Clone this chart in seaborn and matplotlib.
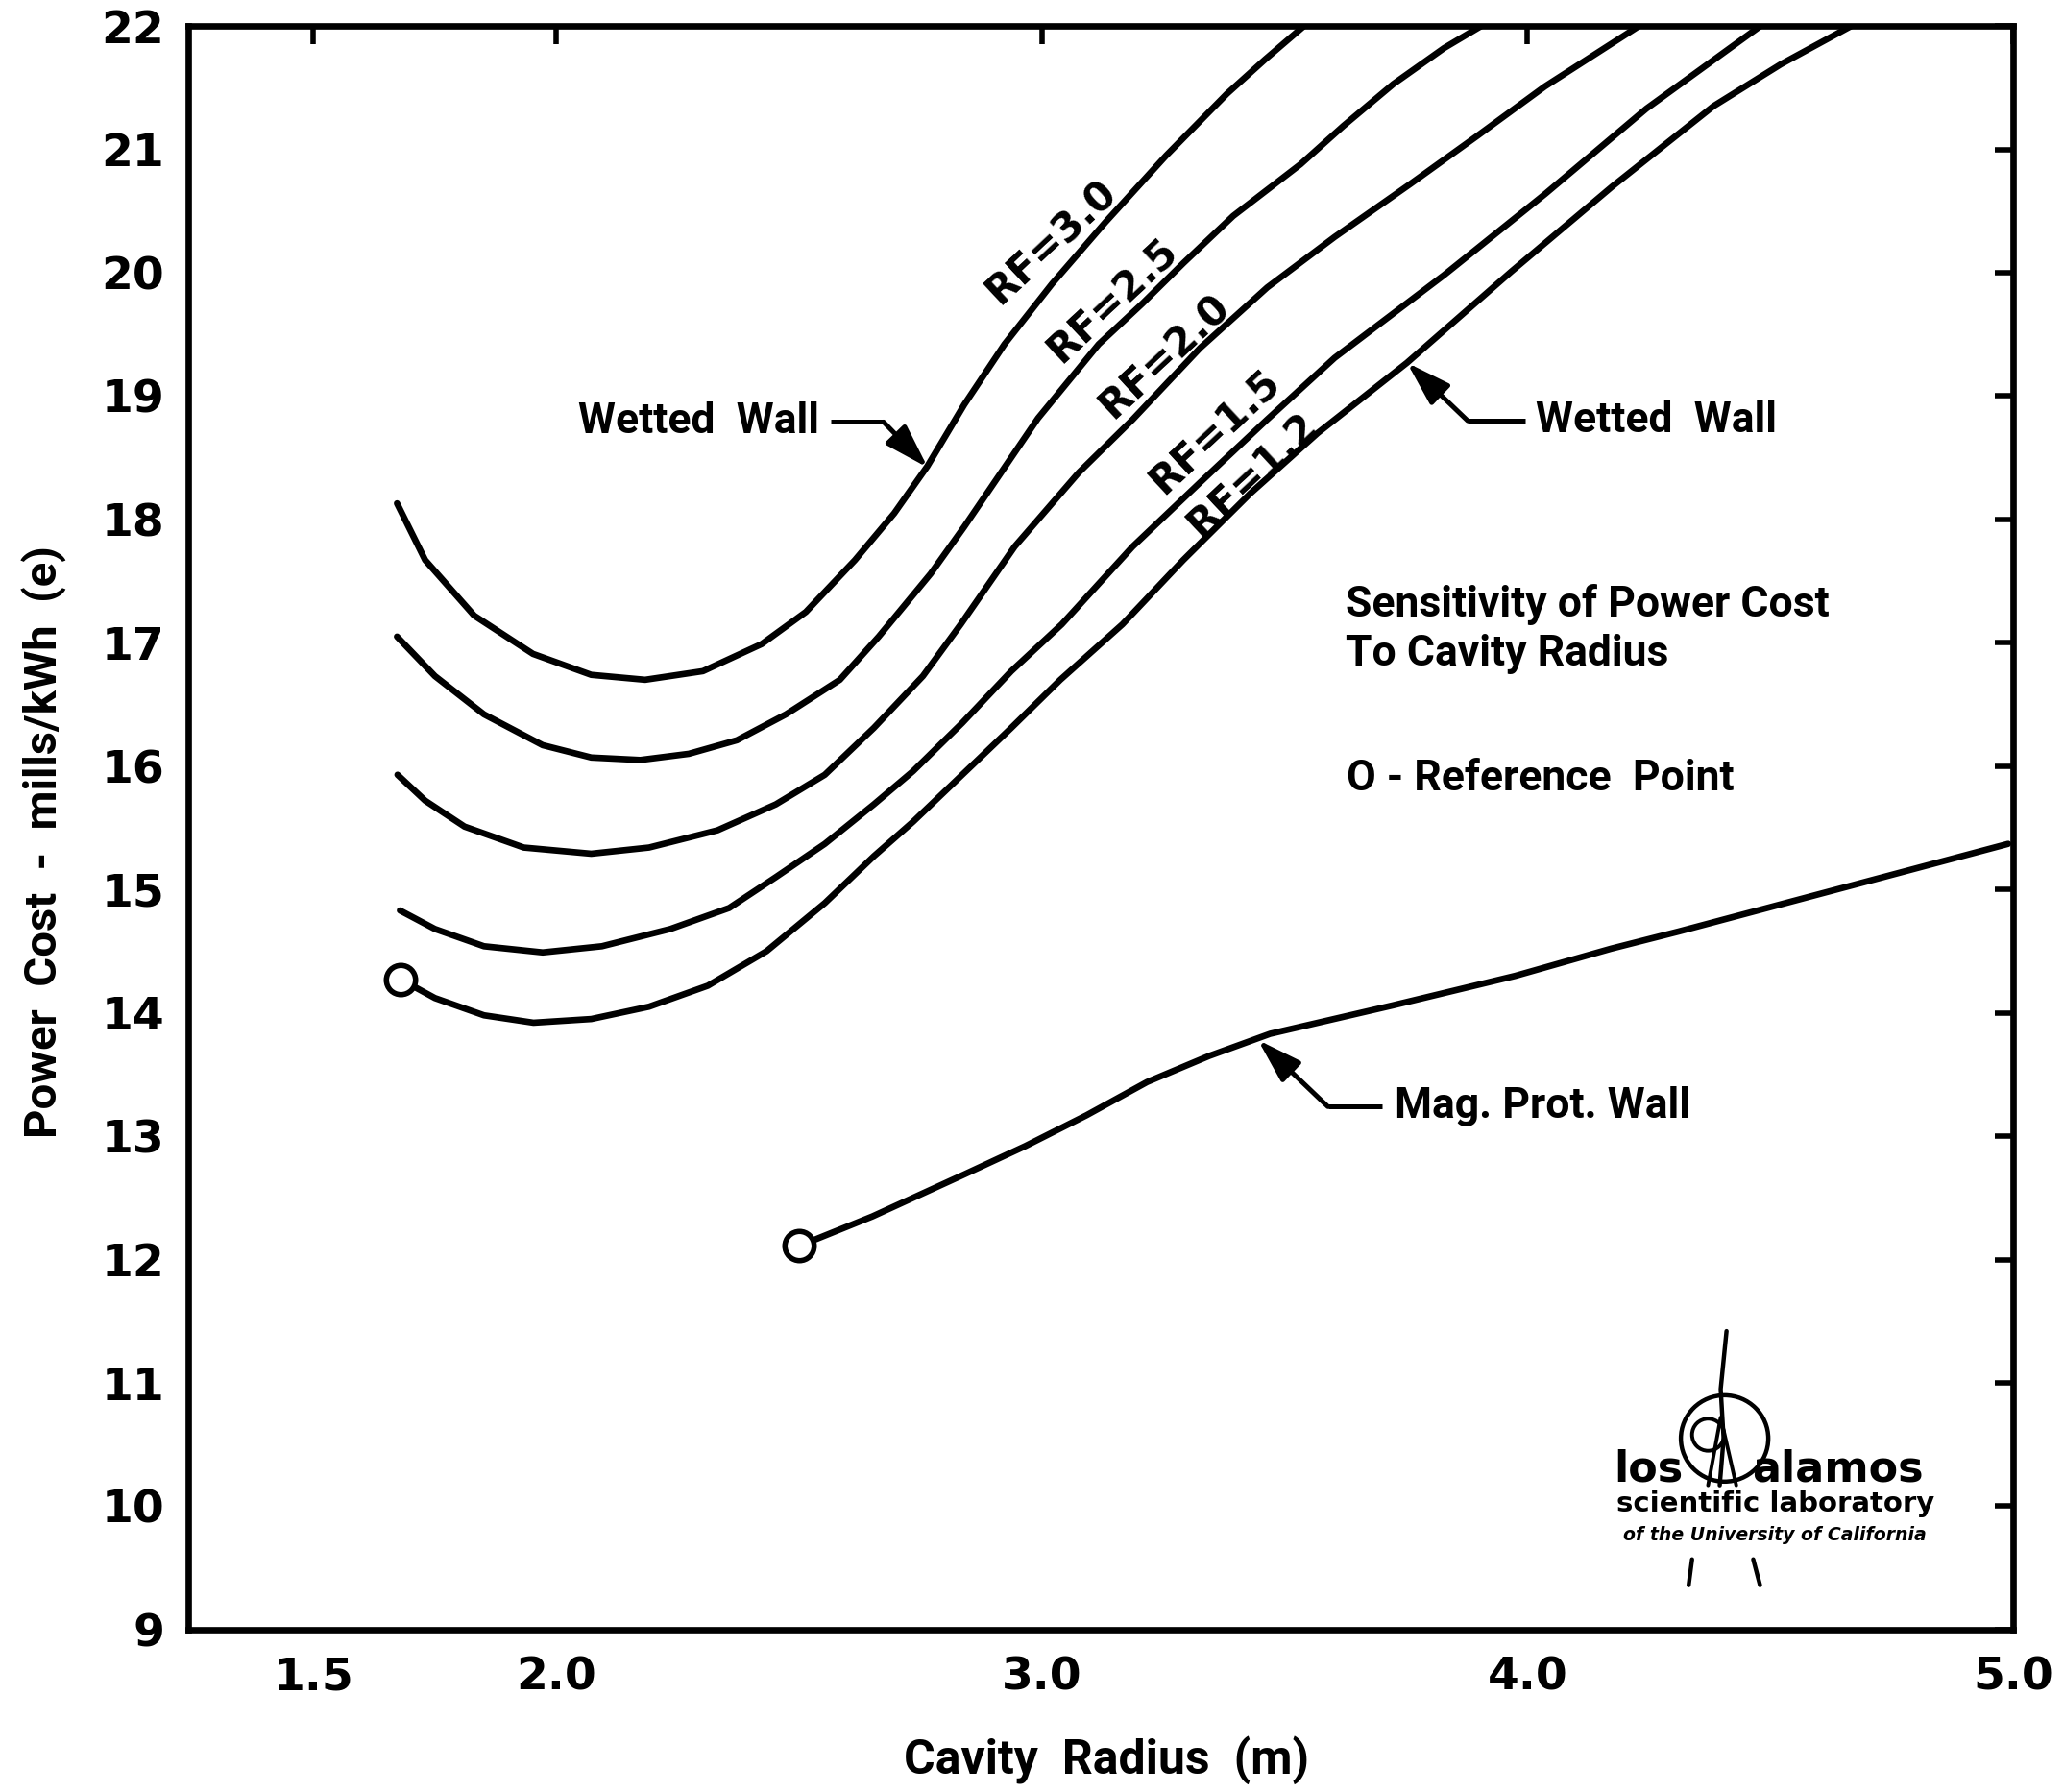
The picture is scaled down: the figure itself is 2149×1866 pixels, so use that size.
import numpy as np
import pandas as pd
import matplotlib
matplotlib.use("Agg")
import matplotlib.pyplot as plt
import seaborn as sns
from matplotlib.patches import Ellipse

# ---------------- data ----------------
rf30_x = [1.672, 1.730, 1.831, 1.952, 2.072, 2.183, 2.302, 2.423, 2.514, 2.615, 2.696, 2.764,
          2.840, 2.923, 3.021, 3.131, 3.256, 3.381, 3.460, 3.540]
rf30_y = [18.13, 17.67, 17.22, 16.91, 16.74, 16.70, 16.77, 16.99, 17.25, 17.67, 18.05, 18.43,
          18.93, 19.42, 19.91, 20.41, 20.95, 21.45, 21.73, 22.00]

rf25_x = [1.672, 1.750, 1.851, 1.972, 2.072, 2.173, 2.273, 2.372, 2.473, 2.584, 2.664, 2.771,
          2.840, 2.992, 3.117, 3.207, 3.292, 3.394, 3.533, 3.621, 3.724, 3.828, 3.905]
rf25_y = [17.05, 16.73, 16.42, 16.17, 16.07, 16.05, 16.10, 16.21, 16.42, 16.70, 17.05, 17.56,
          17.94, 18.82, 19.42, 19.75, 20.08, 20.46, 20.88, 21.19, 21.53, 21.82, 22.00]

rf20_x = [1.673, 1.730, 1.811, 1.933, 2.072, 2.191, 2.332, 2.452, 2.553, 2.654, 2.755, 2.833,
          2.944, 3.076, 3.187, 3.326, 3.464, 3.603, 3.759, 3.897, 4.036, 4.230]
rf20_y = [15.93, 15.72, 15.51, 15.34, 15.29, 15.34, 15.48, 15.69, 15.93, 16.31, 16.73, 17.15,
          17.78, 18.38, 18.81, 19.39, 19.88, 20.29, 20.72, 21.11, 21.51, 22.00]

rf15_x = [1.678, 1.750, 1.851, 1.972, 2.094, 2.235, 2.356, 2.452, 2.553, 2.654, 2.735, 2.836,
          2.937, 3.041, 3.187, 3.326, 3.464, 3.603, 3.828, 4.037, 4.245, 4.480]
rf15_y = [14.83, 14.68, 14.54, 14.49, 14.54, 14.68, 14.85, 15.10, 15.37, 15.69, 15.96, 16.35,
          16.77, 17.15, 17.78, 18.30, 18.81, 19.31, 19.98, 20.64, 21.33, 22.00]

rf12_x = [1.680, 1.750, 1.851, 1.953, 2.072, 2.191, 2.312, 2.433, 2.553, 2.654, 2.735, 2.836,
          2.937, 3.038, 3.166, 3.291, 3.429, 3.568, 3.752, 3.967, 4.175, 4.383, 4.522, 4.667]
rf12_y = [14.27, 14.12, 13.98, 13.92, 13.95, 14.05, 14.22, 14.50, 14.89, 15.27, 15.55, 15.93,
          16.31, 16.70, 17.15, 17.67, 18.21, 18.70, 19.27, 20.01, 20.70, 21.35, 21.69, 22.00]

mag_x = [2.500, 2.651, 2.840, 2.966, 3.092, 3.217, 3.344, 3.470, 3.722, 3.975, 4.172, 4.312, 4.990]
mag_y = [12.11, 12.35, 12.69, 12.92, 13.17, 13.44, 13.65, 13.83, 14.06, 14.30, 14.52, 14.66, 15.37]

ref_x = [1.680, 2.500]
ref_y = [14.27, 12.11]

rf_labels = ["RF=3.0", "RF=2.5", "RF=2.0", "RF=1.5", "RF=1.2"]
rf_label_x = [3.020, 3.145, 3.252, 3.356, 3.433]
rf_label_y = [20.25, 19.77, 19.32, 18.71, 18.36]

x_ticks = [1.5, 2.0, 3.0, 4.0, 5.0]
x_tick_labels = ["1.5", "2.0", "3.0", "4.0", "5.0"]
y_ticks = list(range(9, 23))

# ---------------- figure ----------------
sns.set_theme(style="white")
plt.rcParams['font.family'] = ['DejaVu Sans']
plt.rcParams.update({"text.color": "black", "axes.labelcolor": "black",
                     "xtick.color": "black", "ytick.color": "black"})
NARROW = ['Roboto', 'DejaVu Sans']

fig = plt.figure(figsize=(2149 / 200, 1866 / 200), dpi=200)
fig.patch.set_facecolor("white")
ax = fig.add_axes([0.0912, 0.0906, 0.9753 - 0.0912, 0.9855 - 0.0906])
ax.set_facecolor("white")

frames = []
for name, xs, ys in [("RF=3.0", rf30_x, rf30_y), ("RF=2.5", rf25_x, rf25_y),
                     ("RF=2.0", rf20_x, rf20_y), ("RF=1.5", rf15_x, rf15_y),
                     ("RF=1.2", rf12_x, rf12_y), ("Mag", mag_x, mag_y)]:
    frames.append(pd.DataFrame({"radius": xs, "cost": ys, "curve": name}))
df = pd.concat(frames, ignore_index=True)

for name, sub in df.groupby("curve", sort=False):
    sns.lineplot(data=sub, x="radius", y="cost", ax=ax, color="black", lw=2.4,
                 sort=False, estimator=None, legend=False,
                 solid_joinstyle="round", solid_capstyle="round", zorder=3)

sns.scatterplot(x=ref_x, y=ref_y, ax=ax, marker="o", s=120, facecolor="white",
                edgecolor="black", linewidth=2.0, zorder=5, legend=False)

ax.set_xlim(1.242, 5.0)
ax.set_ylim(9, 22)
ax.set_xticks(x_ticks)
ax.set_xticklabels(x_tick_labels)
ax.set_yticks(y_ticks)
ax.set_yticklabels([str(v) for v in y_ticks])
ax.tick_params(direction="in", length=7, width=2, top=True, right=True,
               labeltop=False, labelright=False, colors="black")
ax.tick_params(axis="x", labelsize=17, pad=10)
ax.tick_params(axis="y", labelsize=17, pad=9)
for lab in ax.get_xticklabels() + ax.get_yticklabels():
    lab.set_fontweight("bold")
for sp in ax.spines.values():
    sp.set_linewidth(2.4)
    sp.set_color("black")

ax.set_xlabel("Cavity  Radius  (m)", fontsize=18, fontweight="bold", family=NARROW)
ax.xaxis.set_label_coords(0.503, -0.066)
ax.set_ylabel("Power  Cost  -  mills/kWh  (e)", fontsize=17, fontweight="bold", family=NARROW)
ax.yaxis.set_label_coords(-0.067, 0.491)

# RF labels along curves
for t, lx, ly in zip(rf_labels, rf_label_x, rf_label_y):
    ax.text(lx, ly, t, rotation=43, ha="center", va="center", fontsize=15,
            fontweight="bold", rotation_mode="anchor")

# annotations with leaders
def leader(text, tx, ty, ha, sx, cx, tipx, tipy):
    ax.text(tx, ty, text, ha=ha, va="center", fontsize=16, fontweight="bold", family=NARROW)
    ax.plot([sx, cx], [ty, ty], color="black", lw=1.8, solid_capstyle="butt")
    ax.annotate("", xy=(tipx, tipy), xytext=(cx, ty),
                arrowprops=dict(arrowstyle="-|>,head_length=0.7,head_width=0.22",
                                color="black", lw=1.8, shrinkA=0, shrinkB=0,
                                mutation_scale=20))

leader("Wetted  Wall", 2.294, 18.79, "center", 2.565, 2.674, 2.765, 18.42)
leader("Wetted  Wall", 4.265, 18.80, "center", 3.995, 3.877, 3.752, 19.27)
leader("Mag. Prot. Wall", 4.03, 13.24, "center", 3.701, 3.589, 3.445, 13.78)

ax.text(3.626, 17.31, "Sensitivity of Power Cost", ha="left", va="center",
        fontsize=16, fontweight="bold", family=NARROW)
ax.text(3.626, 16.91, "To Cavity Radius", ha="left", va="center",
        fontsize=16, fontweight="bold", family=NARROW)
ax.text(3.627, 15.90, "O - Reference  Point", ha="left", va="center",
        fontsize=16, fontweight="bold", family=NARROW)

# Los Alamos logo (decoration)
ax.add_patch(Ellipse((4.406, 10.55), 0.18, 0.70, fill=False, lw=1.6, color="black", zorder=4))
ax.add_patch(Ellipse((4.372, 10.58), 0.066, 0.26, fill=False, lw=1.4, color="black", zorder=4))
ax.plot([4.410, 4.398, 4.404, 4.396], [11.42, 10.95, 10.55, 10.17], color="black", lw=1.6)
ax.plot([4.372, 4.398, 4.430], [10.17, 10.72, 10.17], color="black", lw=1.4)
ax.plot([4.339, 4.332], [9.57, 9.36], color="black", lw=1.6)
ax.plot([4.465, 4.479], [9.57, 9.36], color="black", lw=1.6)
ax.text(4.25, 10.30, "los", ha="center", va="center", fontsize=16, fontweight="heavy")
ax.text(4.64, 10.30, "alamos", ha="center", va="center", fontsize=16, fontweight="heavy")
ax.text(4.51, 10.02, "scientific laboratory", ha="center", va="center", fontsize=10.5,
        fontweight="heavy")
ax.text(4.51, 9.77, "of the University of California", ha="center", va="center",
        fontsize=6.8, fontweight="heavy", style="italic")

fig.savefig("out.png", dpi=200, facecolor="white")
